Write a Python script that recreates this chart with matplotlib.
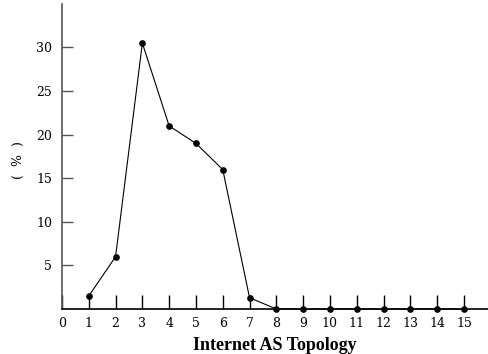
import matplotlib
matplotlib.use("Agg")
import matplotlib.pyplot as plt

# données
hops = [1, 2, 3, 4, 5, 6, 7, 8, 9, 10, 11, 12, 13, 14, 15]
percent = [1.5, 6, 30.5, 21, 19, 16, 1.3, 0, 0, 0, 0, 0, 0, 0, 0]
xtick_labels = [str(i) for i in range(16)]
yticks = [5, 10, 15, 20, 25, 30]

plt.rcParams['font.family'] = ['Liberation Serif', 'DejaVu Serif']
tick_font = {'family': 'DejaVu Serif', 'size': 9}

fig = plt.figure(figsize=(4.88, 3.54), dpi=100)
ax = fig.add_axes([0.127, 0.127, 0.873, 0.862])

ax.plot(hops, percent, color='black', linewidth=0.8, marker='o', markersize=3.8,
        clip_on=False, zorder=3)

ax.set_xlim(0, 15.9)
ax.set_ylim(0, 35)

ax.set_xticks(range(16))
ax.set_xticklabels(xtick_labels, fontdict=tick_font)
ax.set_yticks(yticks)
ax.set_yticklabels([str(v) for v in yticks], fontdict=tick_font)

ax.tick_params(axis='x', direction='in', length=10, width=1, pad=6, colors='black')
ax.tick_params(axis='y', direction='in', length=8, width=1, pad=7, color='#555555',
               labelcolor='black')

ax.spines[['top', 'right']].set_visible(False)
ax.spines['left'].set_color('#555555')
ax.spines['bottom'].set_color('black')
ax.spines['left'].set_linewidth(1.2)
ax.spines['bottom'].set_linewidth(1.2)

ax.set_xlabel('Internet AS Topology', fontsize=13, fontweight='bold', labelpad=5)
fig.text(0.037, 0.548, '(  %  )', rotation=90, family='DejaVu Serif', fontsize=9,
         ha='center', va='center')

fig.savefig('out.png', dpi=100)
